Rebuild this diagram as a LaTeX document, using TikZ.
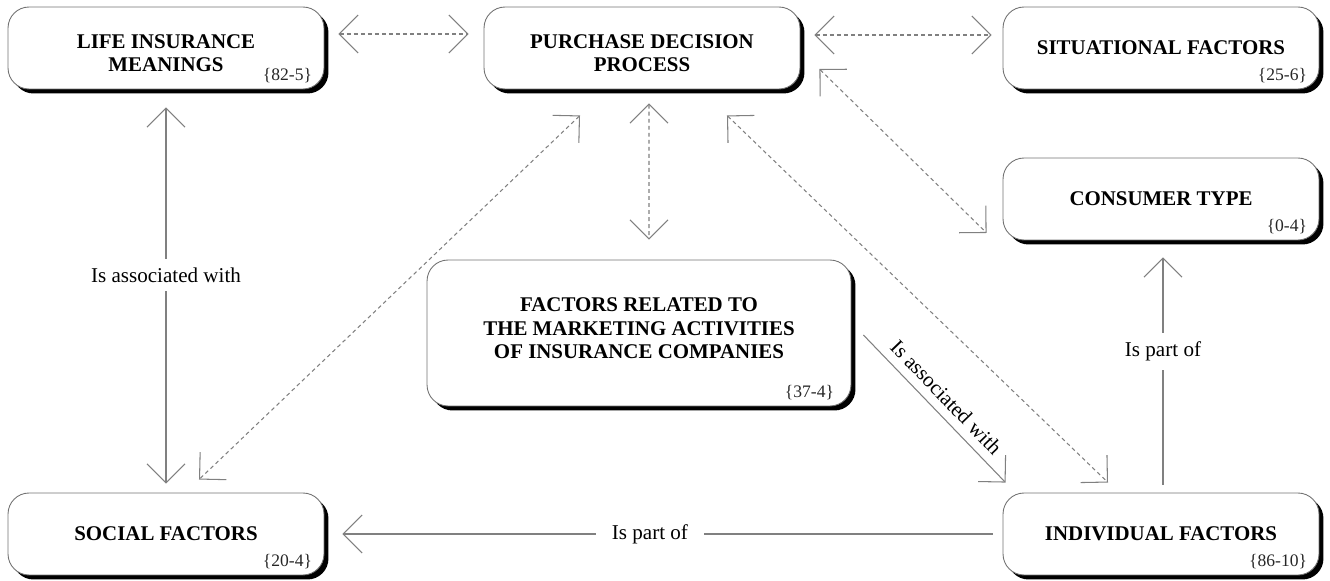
\documentclass[tikz,border=0pt]{standalone}
\usepackage{fontspec}
\setmainfont{Liberation Serif}
\usetikzlibrary{arrows.meta,shadows}

\tikzset{
  factor/.style={draw=black!55, line width=0.5pt, fill=white, rounded corners=0.42cm,
    minimum width=6.32cm, minimum height=1.64cm, align=center,
    font=\fontsize{11.9}{13.2}\selectfont\bfseries,
    drop shadow={shadow xshift=0.09cm, shadow yshift=-0.09cm, fill=black, opacity=1}},
  refnum/.style={anchor=base east, inner sep=0pt, font=\fontsize{10}{12}\selectfont, text=black!85},
  conn/.style={draw=black!50, line width=0.6pt},
  dconn/.style={conn, dash pattern=on 2.2pt off 1.8pt},
  rellabel/.style={fill=white, inner xsep=9pt, inner ysep=5pt, font=\fontsize{12}{14}\selectfont}
}

\begin{document}
\begin{tikzpicture}[x=0.02cm, y=-0.02cm, >={Straight Barb[length=0.38cm,width=0.76cm]}]
  \useasboundingbox (0,0) rectangle (1330,581);
  % boxes
  \node[factor] (lim) at (166,48) {\rule{0pt}{14pt}LIFE INSURANCE\\MEANINGS};
  \node[factor] (pdp) at (642,48) {\rule{0pt}{14pt}PURCHASE DECISION\\PROCESS};
  \node[factor] (sit) at (1161,48) {SITUATIONAL FACTORS};
  \node[factor] (ctype) at (1161,199) {CONSUMER TYPE};
  \node[factor, minimum width=8.48cm, minimum height=2.92cm] (mkt) at (639,333)
    {FACTORS RELATED TO\\THE MARKETING ACTIVITIES\\OF INSURANCE COMPANIES\rule[-5.6pt]{0pt}{5.6pt}};
  \node[factor] (soc) at (166,534) {SOCIAL FACTORS};
  \node[factor] (ind) at (1161,534) {INDIVIDUAL FACTORS};
  % codes
  \node[refnum] (lim-n) at ([xshift=-0.24cm,yshift=0.18cm]lim.south east) {\{82-5\}};
  \node[refnum] (sit-n) at ([xshift=-0.24cm,yshift=0.18cm]sit.south east) {\{25-6\}};
  \node[refnum] (ctype-n) at ([xshift=-0.24cm,yshift=0.18cm]ctype.south east) {\{0-4\}};
  \node[refnum] (mkt-n) at ([xshift=-0.34cm,yshift=0.18cm]mkt.south east) {\{37-4\}};
  \node[refnum] (soc-n) at ([xshift=-0.24cm,yshift=0.18cm]soc.south east) {\{20-4\}};
  \node[refnum] (ind-n) at ([xshift=-0.24cm,yshift=0.18cm]ind.south east) {\{86-10\}};
  % links
  \draw[dconn,<->,shorten <=0.28cm,shorten >=0.3cm] ([yshift=0.28cm]lim.east) -- ([yshift=0.28cm]pdp.west);
  \draw[dconn,<->,shorten <=0.28cm,shorten >=0.22cm] ([yshift=0.26cm]pdp.east) -- ([yshift=0.26cm]sit.west);
  \draw[dconn,<->,shorten <=0.28cm,shorten >=0.4cm] ([xshift=0.14cm]pdp.south) -- ([xshift=0.2cm]mkt.north);
  \draw[dconn,<->] ([xshift=-1.24cm,yshift=-0.52cm]pdp.south) -- ([xshift=0.66cm,yshift=0.26cm]soc.north);
  \draw[dconn,<->] ([xshift=1.7cm,yshift=-0.52cm]pdp.south) -- ([xshift=-1.06cm,yshift=0.2cm]ind.north);
  \draw[dconn,<->] ([xshift=0.38cm,yshift=-0.42cm]pdp.east) -- ([xshift=-0.32cm,yshift=-0.68cm]ctype.west);
  \draw[conn,->] ([xshift=0.24cm,yshift=-0.04cm]mkt.east)
    -- node[midway,above,sloped,yshift=1.5pt,font=\fontsize{12}{14}\selectfont] (mkt-ind) {Is associated with}
    ([xshift=0.06cm,yshift=0.2cm]ind.north west);
  \draw[conn,<->,shorten <=0.36cm,shorten >=0.18cm] (lim.south)
    -- node[rellabel,pos=0.46] (lim-soc) {Is associated with} (soc.north);
  \draw[conn,->,shorten <=0.16cm,shorten >=0.34cm] ([xshift=0.04cm]ind.north)
    -- node[rellabel,pos=0.56] (ind-ctype) {Is part of} ([xshift=0.04cm]ctype.south);
  \draw[conn,->,shorten <=0.2cm,shorten >=0.36cm] (ind.west)
    -- node[rellabel,pos=0.52] (ind-soc) {Is part of} (soc.east);
\end{tikzpicture}
\end{document}
